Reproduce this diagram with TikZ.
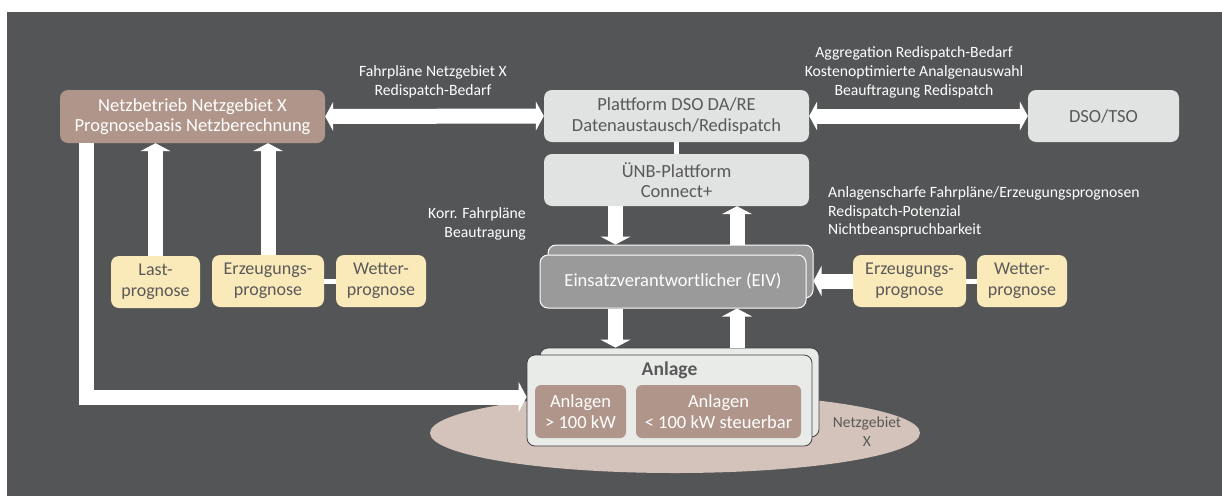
\documentclass[tikz,border=0pt]{standalone}
\usepackage{fontspec}
\setmainfont{Carlito}
\usetikzlibrary{arrows.meta,shapes.geometric}
\definecolor{bgdark}{HTML}{545557}
\definecolor{brownbox}{HTML}{B0958A}
\definecolor{lightbox}{HTML}{E1E2E2}
\definecolor{yellowbox}{HTML}{FBEAB9}
\definecolor{eivgray}{HTML}{9A9A9A}
\definecolor{anlfill}{HTML}{E9EBE9}
\definecolor{ellfill}{HTML}{D4C3BA}
\definecolor{darktext}{HTML}{595959}
\begin{document}
\begin{tikzpicture}[x=1pt,y=-1pt,
  box/.style={rounded corners=8pt, inner sep=0pt, align=center,
    font=\fontsize{18.5}{20.5}\selectfont},
  brownb/.style={box, fill=brownbox, text=white},
  lightb/.style={box, fill=lightbox, text=darktext},
  yellowb/.style={box, fill=yellowbox, text=darktext, font=\fontsize{18}{20.5}\selectfont},
  eivb/.style={box, fill=eivgray, draw=white, line width=1pt, text=white},
  anlb/.style={box, fill=anlfill, draw=black!75, line width=0.8pt},
  lbl/.style={inner sep=0pt, text=white, font=\fontsize{15.7}{18.7}\selectfont},
  flow/.style={draw=white, line width=15pt, -{Triangle[length=8pt,width=30pt]}},
  flow2/.style={draw=white, line width=15pt, {Triangle[length=8pt,width=29pt]}-{Triangle[length=8pt,width=29pt]}},
  link/.style={draw=white, line width=5pt}
]
\useasboundingbox (0,0) rectangle (1222,496);
\fill[white] (0,0) rectangle (1222,496);
\fill[bgdark] (7,12) rectangle (1222,496);

% Netzgebiet ellipse
\node[ellipse, fill=ellfill, minimum width=490pt, minimum height=80pt, inner sep=0pt] (gebiet) at (675,433) {};
\node[lbl, text=darktext, align=center, font=\fontsize{15.5}{19}\selectfont] (gebietlbl) at (867,432) {Netzgebiet\\X};

% top row
\node[brownb, minimum width=265pt, minimum height=53pt] (netz) at (192.5,116.5) {Netzbetrieb Netzgebiet X\\Prognosebasis Netzberechnung};
\node[lightb, minimum width=265pt, minimum height=52pt] (plat) at (676.5,116) {Plattform DSO DA/RE\\Datenaustausch/Redispatch};
\node[lightb, minimum width=265pt, minimum height=52pt] (uenb) at (676.5,180) {ÜNB-Plattform\\Connect+};
\node[lightb, minimum width=151pt, minimum height=52pt] (dso) at (1103.5,116) {DSO/TSO};

% EIV
\node[eivb, minimum width=265pt, minimum height=53pt] (eivback) at (680.5,271.5) {};
\node[eivb, minimum width=266pt, minimum height=53pt] (eiv) at (673,281.5) {Einsatzverantwortlicher (EIV)};

% forecasts left
\node[yellowb, minimum width=89pt, minimum height=52pt] (last) at (155.5,282) {Last-\\prognose};
\node[yellowb, minimum width=112pt, minimum height=52pt] (erzl) at (268,281) {Erzeugungs-\\prognose};
\node[yellowb, minimum width=90pt, minimum height=52pt] (wetl) at (381,281) {Wetter-\\prognose};
% forecasts right
\node[yellowb, minimum width=113pt, minimum height=52pt] (erzr) at (909.5,281) {Erzeugungs-\\prognose};
\node[yellowb, minimum width=90pt, minimum height=52pt] (wetr) at (1022,281) {Wetter-\\prognose};

% Anlage
\node[anlb, minimum width=279pt, minimum height=89pt] (anlback) at (679.5,392.5) {};
\node[anlb, minimum width=285pt, minimum height=91pt] (anl) at (669.5,400.5) {};
\node[inner sep=0pt, text=darktext, font=\fontsize{19.5}{22}\selectfont\bfseries] (anltitle) at (669.5,370) {Anlage};
\node[brownb, rounded corners=6pt, minimum width=91pt, minimum height=53pt] (a1) at (580.5,411.5) {Anlagen\\> 100 kW};
\node[brownb, rounded corners=6pt, minimum width=165pt, minimum height=53pt] (a2) at (718.5,411.5) {Anlagen\\< 100 kW steuerbar};

% labels
\node[lbl, align=center] (lfahr) at (433,82) {Fahrpläne Netzgebiet X\\Redispatch-Bedarf};
\node[lbl, align=center] (lagg) at (914,72.5) {Aggregation Redispatch-Bedarf\\Kostenoptimierte Analgenauswahl\\Beauftragung Redispatch};
\node[lbl, align=left, anchor=west] (lanl) at (828,212) {Anlagenscharfe Fahrpläne/Erzeugungsprognosen\\Redispatch-Potenzial\\Nichtbeanspruchbarkeit};
\node[lbl, align=right, anchor=east] (lkorr) at (526,224) {Korr. Fahrpläne\\Beautragung};

% connectors
\draw[flow2] (netz.east) -- (plat.west);
\draw[flow2] (plat.east) -- (dso.west);
\draw[link] (plat.south) -- (uenb.north);
\draw[link] (erzl.east) -- (wetl.west);
\draw[link] (erzr.east) -- (wetr.west);
\draw[flow] (last.north) -- (last.north |- netz.south);
\draw[flow] (erzl.north) -- (erzl.north |- netz.south);
\draw[flow] ([xshift=-61pt]uenb.south) -- ([xshift=-61pt]uenb.south |- eivback.north);
\draw[flow] ([xshift=60.5pt]uenb.south |- eivback.north) -- ([xshift=60.5pt]uenb.south);
\draw[flow] ([xshift=-57.5pt]eiv.south) -- ([xshift=-57.5pt]eiv.south |- anlback.north);
\draw[flow] ([xshift=64pt]eiv.south |- anlback.north) -- ([xshift=64pt]eiv.south);
\draw[flow] (erzr.west) -- (erzr.west -| eivback.east);
\draw[flow] ([xshift=27pt]netz.south west) |- ([yshift=3.5pt]anl.west);
\end{tikzpicture}
\end{document}
